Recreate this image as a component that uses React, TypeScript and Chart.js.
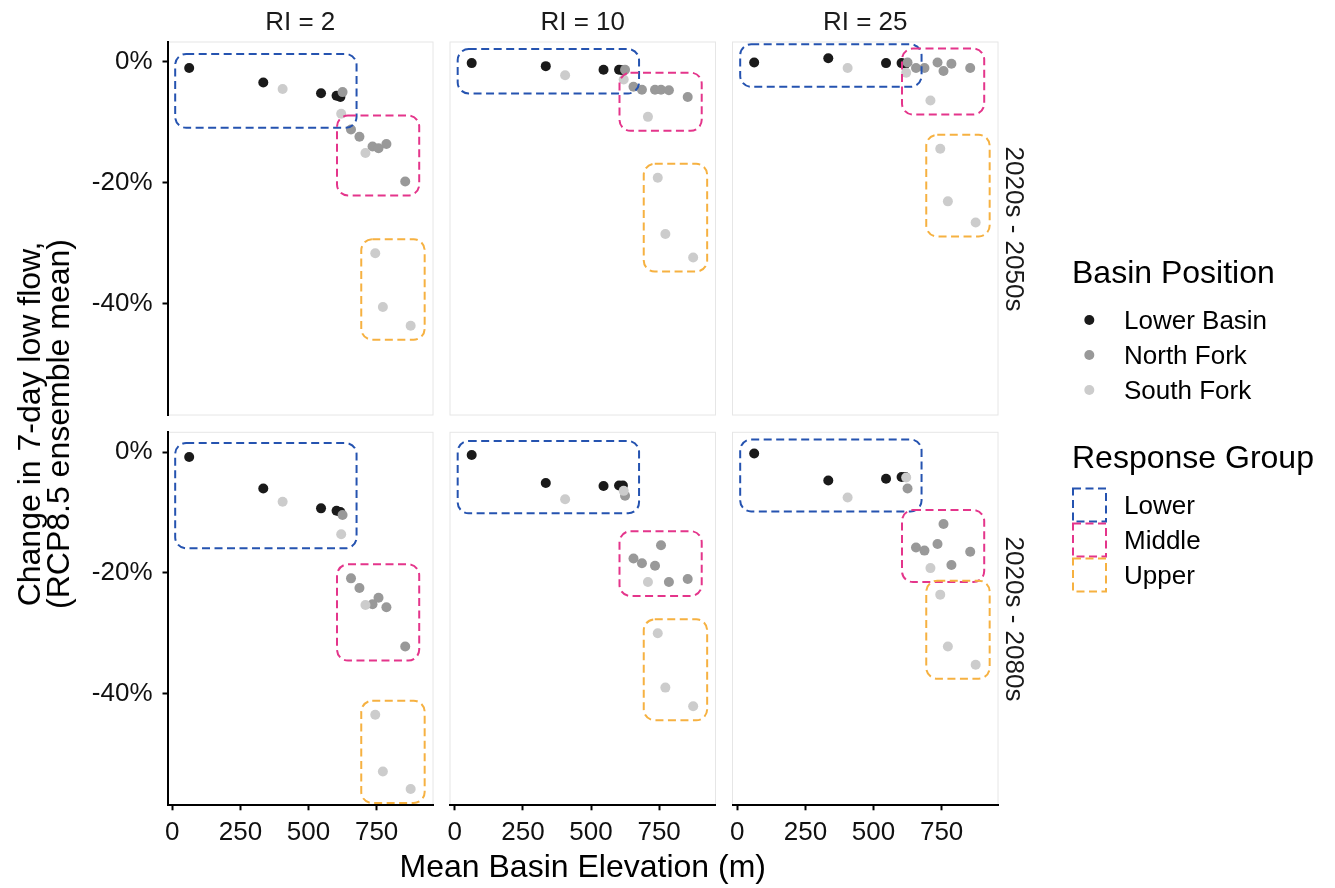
import React, { useEffect, useRef } from 'react';
import { Chart, registerables } from 'chart.js';

Chart.register(...registerables);

// ---------------- data ----------------
const BASIN_ELEVATION = [62, 334, 405, 546, 603, 617, 620, 625, 656, 687, 709, 735, 745, 757, 773, 786, 855, 875];
const BASIN_POSITION = [
  'Lower Basin', 'Lower Basin', 'South Fork', 'Lower Basin', 'Lower Basin', 'Lower Basin',
  'South Fork', 'North Fork', 'North Fork', 'North Fork', 'South Fork', 'North Fork',
  'South Fork', 'North Fork', 'South Fork', 'North Fork', 'North Fork', 'South Fork',
];
const RESPONSE_GROUP = [
  'Lower', 'Lower', 'Lower', 'Lower', 'Lower', 'Lower',
  'Lower', 'Lower', 'Middle', 'Middle', 'Middle', 'Middle',
  'Upper', 'Middle', 'Upper', 'Middle', 'Middle', 'Upper',
];

const CHANGE_2050_RI2 = [-1.0, -3.4, -4.5, -5.2, -5.6, -5.8, -8.6, -5.0, -11.2, -12.4, -15.1, -14.0, -31.7, -14.3, -40.6, -13.6, -19.8, -43.7];
const CHANGE_2050_RI10 = [-0.2, -0.7, -2.2, -1.3, -1.3, -1.4, -2.9, -1.3, -4.1, -4.6, -9.1, -4.6, -19.2, -4.6, -28.5, -4.7, -5.8, -32.4];
const CHANGE_2050_RI25 = [-0.1, 0.6, -1.0, -0.2, -0.2, -0.3, -1.8, -0.1, -1.0, -1.0, -6.4, -0.1, -14.4, -1.5, -23.1, -0.3, -1.0, -26.6];
const CHANGE_2080_RI2 = [-0.8, -6.0, -8.2, -9.3, -9.7, -9.9, -13.6, -10.4, -20.9, -22.5, -25.3, -25.2, -43.5, -24.1, -52.9, -25.7, -32.2, -55.8];
const CHANGE_2080_RI10 = [-0.45, -5.1, -7.8, -5.6, -5.5, -5.5, -6.4, -7.2, -17.6, -18.4, -21.5, -18.8, -30.0, -15.4, -39.0, -21.5, -21.0, -42.1];
const CHANGE_2080_RI25 = [-0.2, -4.7, -7.5, -4.4, -4.1, -4.1, -4.2, -6.0, -15.8, -16.3, -19.2, -15.2, -23.6, -11.9, -32.2, -18.7, -16.5, -35.2];

const RI_LABELS = ['RI = 2', 'RI = 10', 'RI = 25'];
const PERIOD_LABELS = ['2020s - 2050s', '2020s - 2080s'];
const POSITIONS = ['Lower Basin', 'North Fork', 'South Fork'];
const GROUPS = ['Lower', 'Middle', 'Upper'];
const X_TICKS = [0, 250, 500, 750];
const Y_TICKS = [0, -20, -40];
const X_RANGE = [-17.6, 957];
const Y_RANGE = [-58.5, 3.3];

const PANEL_VALUES = [
  [CHANGE_2050_RI2, CHANGE_2050_RI10, CHANGE_2050_RI25],
  [CHANGE_2080_RI2, CHANGE_2080_RI10, CHANGE_2080_RI25],
];

// ---------------- layout / style ----------------
const W = 1335;
const H = 888;
const COL_LEFT = [167.5, 450, 732.5];
const PANEL_W = 265.5;
const ROW_TOP = [42, 432.3];
const PANEL_H = 373;
const Y_AXIS_W = 100;
const X_AXIS_H = 50;
const FONT = "'Liberation Sans', Arial, Helvetica, sans-serif";
const SMALL = 26;
const BIG = 32;

const POSITION_COLORS: Record<string, string> = {
  'Lower Basin': '#1A1A1A',
  'North Fork': '#999999',
  'South Fork': '#CCCCCC',
};
const GROUP_COLORS: Record<string, string> = {
  Lower: '#2553B0',
  Middle: '#E4358B',
  Upper: '#F6B141',
};
const BOX_EXPAND = 14;
const BOX_RADIUS = 11;
const BOX_DASH = [8, 4.5];
const POINT_R = 5;

function roundRectPath(ctx: CanvasRenderingContext2D, x: number, y: number, w: number, h: number, r: number) {
  ctx.beginPath();
  ctx.moveTo(x + r, y);
  ctx.lineTo(x + w - r, y);
  ctx.arcTo(x + w, y, x + w, y + r, r);
  ctx.lineTo(x + w, y + h - r);
  ctx.arcTo(x + w, y + h, x + w - r, y + h, r);
  ctx.lineTo(x + r, y + h);
  ctx.arcTo(x, y + h, x, y + h - r, r);
  ctx.lineTo(x, y + r);
  ctx.arcTo(x, y, x + r, y, r);
  ctx.closePath();
}

const framePlugin = {
  id: 'panelFrame',
  beforeDraw(chart: any) {
    const { ctx, chartArea: a } = chart;
    ctx.save();
    ctx.strokeStyle = '#E6E6E6';
    ctx.lineWidth = 1;
    ctx.strokeRect(a.left, a.top, a.right - a.left, a.bottom - a.top);
    ctx.restore();
  },
};

function makeBoxPlugin(values: number[]) {
  return {
    id: 'groupBoxes',
    afterDatasetsDraw(chart: any) {
      const { ctx, chartArea: a, scales } = chart;
      ctx.save();
      ctx.beginPath();
      ctx.rect(a.left, a.top, a.right - a.left, a.bottom - a.top);
      ctx.clip();
      GROUPS.forEach((g) => {
        let x0 = Infinity, x1 = -Infinity, y0 = Infinity, y1 = -Infinity;
        BASIN_ELEVATION.forEach((e, i) => {
          if (RESPONSE_GROUP[i] !== g) return;
          const px = scales.x.getPixelForValue(e);
          const py = scales.y.getPixelForValue(values[i]);
          x0 = Math.min(x0, px); x1 = Math.max(x1, px);
          y0 = Math.min(y0, py); y1 = Math.max(y1, py);
        });
        if (!isFinite(x0)) return;
        x0 -= BOX_EXPAND; x1 += BOX_EXPAND; y0 -= BOX_EXPAND; y1 += BOX_EXPAND;
        ctx.strokeStyle = GROUP_COLORS[g];
        ctx.lineWidth = 2;
        ctx.setLineDash(BOX_DASH);
        roundRectPath(ctx, x0, y0, x1 - x0, y1 - y0, BOX_RADIUS);
        ctx.stroke();
      });
      ctx.restore();
    },
  };
}

function Panel({ row, col }: { row: number; col: number }) {
  const ref = useRef<HTMLCanvasElement>(null);
  useEffect(() => {
    if (!ref.current) return;
    const values = PANEL_VALUES[row][col];
    const showY = col === 0;
    const showX = row === 1;
    const left = COL_LEFT[col];
    const top = ROW_TOP[row];
    const chart = new Chart(ref.current, {
      type: 'scatter',
      data: {
        datasets: POSITIONS.map((pos, k) => ({
          label: pos,
          data: BASIN_ELEVATION.map((x, i) => ({ x, y: values[i], p: BASIN_POSITION[i] }))
            .filter((d) => d.p === pos)
            .map((d) => ({ x: d.x, y: d.y })),
          backgroundColor: POSITION_COLORS[pos],
          borderColor: POSITION_COLORS[pos],
          borderWidth: 0,
          pointRadius: POINT_R,
          pointHoverRadius: POINT_R,
          order: POSITIONS.length - 1 - k,
        })),
      },
      options: {
        responsive: false,
        animation: false,
        devicePixelRatio: 1,
        events: [],
        layout: {
          autoPadding: false,
          padding: {
            left: showY ? left - Y_AXIS_W : left,
            right: W - (left + PANEL_W),
            top: top,
            bottom: showX ? H - (top + PANEL_H) - X_AXIS_H : H - (top + PANEL_H),
          },
        },
        plugins: {
          legend: { display: false },
          tooltip: { enabled: false },
        },
        scales: {
          x: {
            type: 'linear',
            min: X_RANGE[0],
            max: X_RANGE[1],
            display: showX,
            afterBuildTicks: (s: any) => { s.ticks = X_TICKS.map((v) => ({ value: v })); },
            afterFit: (s: any) => { if (showX) s.height = X_AXIS_H; },
            grid: { display: true, drawOnChartArea: false, drawTicks: true, tickLength: 5, tickWidth: 2, tickColor: '#000', color: '#000' },
            border: { display: true, color: '#000', width: 2 },
            ticks: {
              color: '#111',
              font: { family: FONT, size: SMALL },
              padding: 7,
              autoSkip: false,
              maxRotation: 0,
              callback: (v: any) => String(v),
            },
          },
          y: {
            type: 'linear',
            min: Y_RANGE[0],
            max: Y_RANGE[1],
            display: showY,
            afterBuildTicks: (s: any) => { s.ticks = Y_TICKS.map((v) => ({ value: v })); },
            afterFit: (s: any) => { if (showY) s.width = Y_AXIS_W; },
            grid: { display: true, drawOnChartArea: false, drawTicks: true, tickLength: 5, tickWidth: 2, tickColor: '#000', color: '#000' },
            border: { display: true, color: '#000', width: 2 },
            ticks: {
              color: '#111',
              font: { family: FONT, size: SMALL },
              padding: 10,
              autoSkip: false,
              callback: (v: any) => `${v}%`,
            },
          },
        },
      } as any,
      plugins: [framePlugin, makeBoxPlugin(values)],
    });
    return () => chart.destroy();
  }, [row, col]);
  return (
    <canvas
      ref={ref}
      width={W}
      height={H}
      style={{ position: 'absolute', left: 0, top: 0, width: W, height: H }}
    />
  );
}

function Text({ x, y, children, size, rotate = 0, align = 'center', color = '#000' }: any) {
  const tx = align === 'center' ? '-50%' : '0';
  return (
    <div
      style={{
        position: 'absolute',
        left: x,
        top: y,
        transform: `translate(${tx}, -50%) rotate(${rotate}deg)`,
        fontFamily: FONT,
        fontSize: size,
        lineHeight: 1,
        whiteSpace: 'nowrap',
        color,
      }}
    >
      {children}
    </div>
  );
}

export default function App() {
  const legendDotY = [320, 355, 390];
  const legendBoxY = [505, 540, 575];
  return (
    <div
      style={{
        position: 'fixed',
        left: 0,
        top: 0,
        width: W,
        height: H,
        background: '#fff',
        overflow: 'hidden',
      }}
    >
      {[0, 1].map((r) => [0, 1, 2].map((c) => <Panel key={`${r}-${c}`} row={r} col={c} />))}

      {RI_LABELS.map((t, c) => (
        <Text key={t} x={COL_LEFT[c] + PANEL_W / 2} y={20.5} size={SMALL} color="#1A1A1A">{t}</Text>
      ))}
      {PERIOD_LABELS.map((t, r) => (
        <Text key={t} x={1015} y={ROW_TOP[r] + PANEL_H / 2} size={SMALL} rotate={90} color="#1A1A1A">{t}</Text>
      ))}

      <div
        style={{
          position: 'absolute',
          left: 44,
          top: (ROW_TOP[0] + ROW_TOP[1] + PANEL_H) / 2,
          transform: 'translate(-50%, -50%) rotate(-90deg)',
          fontFamily: FONT,
          fontSize: BIG,
          lineHeight: '29px',
          whiteSpace: 'nowrap',
          textAlign: 'center',
          color: '#000',
        }}
      >
        Change in 7-day low flow,
        <br />
        (RCP8.5 ensemble mean)
      </div>
      <Text x={(COL_LEFT[0] + COL_LEFT[2] + PANEL_W) / 2} y={866} size={BIG}>Mean Basin Elevation (m)</Text>

      <Text x={1072} y={272} size={BIG} align="left">Basin Position</Text>
      {POSITIONS.map((p, k) => (
        <Text key={p} x={1124} y={legendDotY[k]} size={SMALL} align="left">{p}</Text>
      ))}
      <Text x={1072} y={457} size={BIG} align="left">Response Group</Text>
      {GROUPS.map((g, k) => (
        <Text key={g} x={1124} y={legendBoxY[k]} size={SMALL} align="left">{g}</Text>
      ))}

      <svg width={W} height={H} style={{ position: 'absolute', left: 0, top: 0, pointerEvents: 'none' }}>
        {POSITIONS.map((p, k) => (
          <circle key={p} cx={1089.3} cy={legendDotY[k]} r={POINT_R} fill={POSITION_COLORS[p]} />
        ))}
        {GROUPS.map((g, k) => (
          <rect
            key={g}
            x={1073}
            y={legendBoxY[k] - 16.5}
            width={33}
            height={33}
            fill="none"
            stroke={GROUP_COLORS[g]}
            strokeWidth={2}
            strokeDasharray={BOX_DASH.join(' ')}
          />
        ))}
      </svg>
    </div>
  );
}
